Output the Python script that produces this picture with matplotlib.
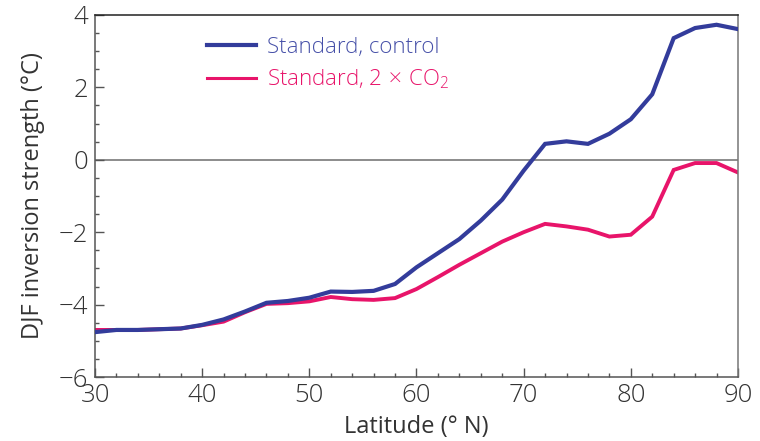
import matplotlib
matplotlib.use("Agg")
import matplotlib.pyplot as plt
from matplotlib.lines import Line2D
from matplotlib.ticker import MultipleLocator

plt.rcParams['font.family'] = ['Open Sans', 'DejaVu Sans']
plt.rcParams['font.weight'] = 'light'
plt.rcParams['mathtext.fontset'] = 'custom'
plt.rcParams['mathtext.rm'] = 'Open Sans:light'
plt.rcParams['mathtext.it'] = 'Open Sans:light'

latitude = [30, 32, 34, 36, 38, 40, 42, 44, 46, 48, 50, 52, 54, 56, 58, 60,
            62, 64, 66, 68, 70, 72, 74, 76, 78, 80, 82, 84, 86, 88, 90]
control = [-4.76, -4.70, -4.70, -4.68, -4.66, -4.56, -4.41, -4.19, -3.95, -3.90,
           -3.81, -3.64, -3.65, -3.62, -3.43, -2.97, -2.58, -2.19, -1.68, -1.10,
           -0.30, 0.44, 0.51, 0.44, 0.72, 1.12, 1.81, 3.36, 3.64, 3.73, 3.61]
doubled_co2 = [-4.70, -4.70, -4.70, -4.68, -4.66, -4.57, -4.47, -4.21, -3.98, -3.96,
               -3.91, -3.79, -3.85, -3.87, -3.82, -3.57, -3.24, -2.90, -2.58, -2.26,
               -2.00, -1.77, -1.84, -1.93, -2.12, -2.07, -1.57, -0.28, -0.09, -0.09, -0.35]

blue = '#333c9b'
pink = '#e8146a'
text_dark = '#333333'

fig = plt.figure(figsize=(7.6, 4.41), dpi=100)
ax = fig.add_axes([0.125, 0.1451, 0.846, 0.8209])

ax.axhline(0, color='#6e6e6e', lw=1.1, zorder=1)
ax.plot(latitude, control, color=blue, lw=3.0, zorder=3, solid_joinstyle='miter')
ax.plot(latitude, doubled_co2, color=pink, lw=2.8, zorder=2, solid_joinstyle='miter')

ax.set_xlim(30, 90)
ax.set_ylim(-6, 4)
ax.xaxis.set_major_locator(MultipleLocator(10))
ax.xaxis.set_minor_locator(MultipleLocator(2))
ax.yaxis.set_major_locator(MultipleLocator(2))
ax.yaxis.set_minor_locator(MultipleLocator(0.5))
ax.tick_params(which='both', direction='in', top=False, right=False,
               colors='#555555', labelcolor=text_dark, labelsize=18.5)
ax.tick_params(which='major', length=6.5, width=1)
ax.tick_params(which='minor', length=3.2, width=1)
ax.tick_params(axis='x', pad=4)
ax.tick_params(axis='y', pad=5)
ax.set_yticks([-6, -4, -2, 0, 2, 4])
ax.set_yticklabels(['\u22126', '\u22124', '\u22122', '0', '2', '4'])

for side in ['left', 'bottom']:
    ax.spines[side].set_color('#555555')
    ax.spines[side].set_linewidth(1.1)
ax.spines['top'].set_color('#222222')
ax.spines['top'].set_linewidth(1.1)
ax.spines['right'].set_color('#777777')
ax.spines['right'].set_linewidth(1.1)

ax.set_xlabel('Latitude (\u00b0 N)', fontsize=17, color=text_dark, labelpad=5)
ax.set_ylabel('DJF inversion strength (\u00b0C)', fontsize=17, color=text_dark, labelpad=10)

handles = [Line2D([], [], color=blue, lw=3.0), Line2D([], [], color=pink, lw=2.2)]
labels = ['Standard, control', 'Standard, 2$\\,\\times\\,$CO$_2$']
leg = ax.legend(handles, labels, loc='upper left', bbox_to_anchor=(0.16, 0.965),
                frameon=False, fontsize=16, handlelength=2.2, handletextpad=0.5,
                labelspacing=0.45, borderaxespad=0)
leg.get_texts()[0].set_color('#4650a8')
leg.get_texts()[1].set_color(pink)

fig.savefig('out.png', dpi=100)
